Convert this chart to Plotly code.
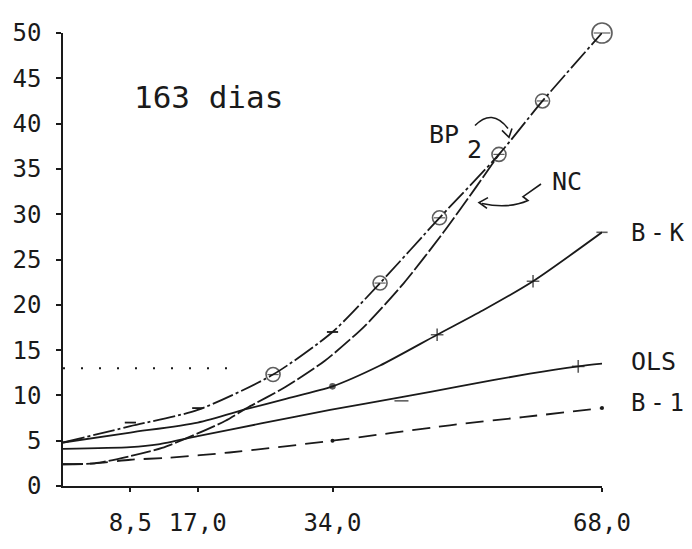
import plotly.graph_objects as go

# ---------------- data ----------------
x_ticks = [8.5, 17, 34, 68]
x_ticktext = ["8,5", "17,0", "34,0", "68,0"]
y_ticks = [0, 5, 10, 15, 20, 25, 30, 35, 40, 45, 50]
y_ticktext = ["0", "5", "10", "15", "20", "25", "30", "35", "40", "45", "50"]

bp2_x = [0, 8.5, 17, 26.5, 34, 40, 47.5, 55, 60.5, 68]
bp2_y = [4.8, 6.6, 8.4, 12.3, 17.0, 22.4, 29.6, 36.6, 42.5, 50.0]
bp2_circ_x = [26.5, 40, 47.5, 55, 60.5, 68]
bp2_circ_y = [12.3, 22.4, 29.6, 36.6, 42.5, 50.0]
bp2_tick_x = [8.5, 17, 34]
bp2_tick_y = [7.0, 8.6, 17.0]

nc_x = [0, 4, 8.5, 12.5, 17, 20.5, 23.2, 28, 33, 38, 43, 48, 52.2, 55]
nc_y = [2.4, 2.5, 3.3, 4.2, 5.8, 7.2, 8.6, 10.9, 13.8, 17.6, 22.4, 28.0, 33.1, 36.6]

bk_x = [0, 8.5, 17, 23.2, 28, 34, 40, 47.2, 53, 59.3, 68]
bk_y = [4.8, 5.9, 7.0, 8.5, 9.6, 11.0, 13.3, 16.7, 19.4, 22.6, 28.0]
bk_mark_x = [34, 47.2, 59.3, 68]
bk_mark_y = [11.0, 16.7, 22.6, 28.0]

ols_x = [0, 8.5, 12, 17, 25, 33.7, 42.7, 50, 58.9, 65, 68]
ols_y = [4.1, 4.3, 4.6, 5.5, 6.9, 8.4, 9.8, 11.0, 12.4, 13.2, 13.5]
ols_mark_x = [42.7, 65]
ols_mark_y = [9.4, 13.2]

b1_x = [0, 4, 8.5, 13, 21, 34, 48.8, 58, 68]
b1_y = [2.4, 2.5, 2.9, 3.1, 3.7, 5.0, 6.7, 7.6, 8.6]
b1_mark_x = [34, 68]
b1_mark_y = [5.0, 8.6]

ref_x = [0, 21]
ref_y = [13, 13]

# ---------------- figure ----------------
INK = "#1a1a1a"
W, H = 692, 549
L, R, T, B = 63, 90, 33, 51
XMAX, YMAX = 68, 50


def px_x(p):
    return (p - L) / (W - L - R) * XMAX


def px_y(p):
    return (H - B - p) / (H - T - B) * YMAX


def px_paper_x(p):
    return (p - L) / (W - L - R)


fig = go.Figure()

line_w = 1.8
fig.add_trace(go.Scatter(x=bp2_x, y=bp2_y, mode="lines", line=dict(color=INK, width=line_w, shape="spline", smoothing=0.7, dash="22px,3px,3px,3px"), cliponaxis=False, name="BP2"))
fig.add_trace(go.Scatter(x=nc_x, y=nc_y, mode="lines", line=dict(color=INK, width=line_w, shape="spline", smoothing=0.7, dash="20px,3px"), cliponaxis=False, name="NC"))
fig.add_trace(go.Scatter(x=bk_x, y=bk_y, mode="lines", line=dict(color=INK, width=line_w, shape="spline", smoothing=0.7), cliponaxis=False, name="B-K"))
fig.add_trace(go.Scatter(x=ols_x, y=ols_y, mode="lines", line=dict(color=INK, width=line_w, shape="spline", smoothing=0.7), cliponaxis=False, name="OLS"))
fig.add_trace(go.Scatter(x=b1_x, y=b1_y, mode="lines", line=dict(color=INK, width=line_w, shape="spline", smoothing=0.7, dash="18px,9px"), cliponaxis=False, name="B-1"))
fig.add_trace(go.Scatter(x=ref_x, y=ref_y, mode="lines", line=dict(color=INK, width=2, dash="2px,16px"), cliponaxis=False))

# markers
fig.add_trace(go.Scatter(x=bp2_circ_x, y=bp2_circ_y, mode="markers",
                         marker=dict(symbol="circle-open", size=[14, 14, 14, 14, 14, 20], color=INK, line=dict(width=1.6, color=INK)),
                         cliponaxis=False))
fig.add_trace(go.Scatter(x=bp2_circ_x, y=bp2_circ_y, mode="markers",
                         marker=dict(symbol="line-ew-open", size=[8, 8, 8, 8, 8, 12], color=INK, line=dict(width=1.2, color=INK)),
                         cliponaxis=False))
fig.add_trace(go.Scatter(x=bp2_tick_x, y=bp2_tick_y, mode="markers",
                         marker=dict(symbol="line-ew-open", size=8, color=INK, line=dict(width=1.8, color=INK)), cliponaxis=False))
fig.add_trace(go.Scatter(x=bk_mark_x, y=bk_mark_y, mode="markers",
                         marker=dict(symbol=["circle", "cross-thin-open", "cross-thin-open", "line-ew-open"], size=[5, 9, 9, 8], color=INK, line=dict(width=1.6, color=INK)), cliponaxis=False))
fig.add_trace(go.Scatter(x=ols_mark_x, y=ols_mark_y, mode="markers",
                         marker=dict(symbol=["line-ew-open", "cross-thin-open"], size=[10, 9], color=INK, line=dict(width=1.6, color=INK)), cliponaxis=False))
fig.add_trace(go.Scatter(x=b1_mark_x, y=b1_mark_y, mode="markers",
                         marker=dict(symbol="circle", size=4, color=INK), cliponaxis=False))

FONT = "DejaVu Sans Mono"
SP = "<span style='font-size:8px'> </span>"
ann = [
    dict(text="163 dias", x=208, y=99, size=31, anchor="center"),
    dict(text="BP", x=444, y=137, size=25, anchor="center"),
    dict(text="2", x=474, y=153, size=25, anchor="center"),
    dict(text="NC", x=567, y=185, size=25, anchor="center"),
    dict(text="B" + SP + "-" + SP + "K", x=630, y=238, size=24, anchor="left"),
    dict(text="OLS", x=630, y=370, size=25, anchor="left"),
    dict(text="B" + SP + "-" + SP + "1", x=630, y=413, size=24, anchor="left"),
]
for a in ann:
    fig.add_annotation(x=px_paper_x(a["x"]), y=px_y(a["y"]), text=a["text"], showarrow=False, xref="paper", yref="y",
                       font=dict(family=FONT, size=a["size"], color=INK), xanchor=a["anchor"], yanchor="middle",
                       borderpad=0)


def path(points_px, cmd):
    return cmd.format(*[v for p in points_px for v in (px_x(p[0]), px_y(p[1]))])


shapes = [
    # BP2 curly arrow
    path([(475, 128), (492, 110), (508, 131)], "M {},{} Q {},{} {},{}"),
    path([(502, 133), (509, 140), (512, 131)], "M {},{} L {},{} L {},{}"),
    # NC curly arrow
    path([(541, 188), (523, 201), (528, 205), (508, 214), (482, 208)], "M {},{} L {},{} L {},{} Q {},{} {},{}"),
    path([(488, 202), (479, 207), (487, 213)], "M {},{} L {},{} L {},{}"),
]
for s in shapes:
    fig.add_shape(type="path", path=s, xref="x", yref="y", line=dict(color=INK, width=1.6))

fig.update_layout(
    width=W, height=H,
    margin=dict(l=L, r=R, t=T, b=B),
    paper_bgcolor="white", plot_bgcolor="white",
    showlegend=False,
    font=dict(family=FONT, color=INK),
    xaxis=dict(range=[0, XMAX], showgrid=False, zeroline=False, showline=True, linecolor=INK, linewidth=1.8,
               tickmode="array", tickvals=x_ticks, ticktext=x_ticktext, ticks="outside", ticklen=4,
               tickcolor=INK, tickwidth=1.5, tickfont=dict(family=FONT, size=24, color=INK), ticklabelstandoff=10),
    yaxis=dict(range=[0, YMAX], showgrid=False, zeroline=False, showline=True, linecolor=INK, linewidth=1.6,
               tickmode="array", tickvals=y_ticks, ticktext=y_ticktext, ticks="outside", ticklen=5,
               tickcolor=INK, tickwidth=1.5, tickfont=dict(family=FONT, size=24, color=INK), ticklabelstandoff=10),
)

fig.write_html("out.html")
